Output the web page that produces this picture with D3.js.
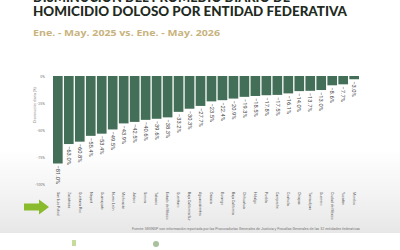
<!DOCTYPE html>
<html>
<head>
<meta charset="utf-8">
<script src="https://cdn.jsdelivr.net/npm/d3@7"></script>
<style>
  html, body { margin: 0; padding: 0; background: #fff; }
  svg { display: block; }
</style>
</head>
<body>
<svg id="chart" width="400" height="250"></svg>
<script>
const estados = [
  'San Luis Potosí', 'Zacatecas', 'Quintana Roo', 'Nayarit', 'Guanajuato',
  'Nuevo León', 'Michoacán', 'Jalisco', 'Sonora', 'Tabasco',
  'Estado de México', 'Querétaro', 'Baja California Sur', 'Aguascalientes', 'Oaxaca',
  'Durango', 'Baja California', 'Chihuahua', 'Hidalgo', 'Puebla',
  'Campeche', 'Coahuila', 'Chiapas', 'Tamaulipas', 'Guerrero',
  'Ciudad de México', 'Yucatán', 'Morelos'
]

const variacion = [
  -81.0, -63.0, -60.8, -55.4, -53.4,
  -49.5, -43.9, -42.5, -40.6, -39.6,
  -38.3, -33.2, -30.3, -27.7, -23.5,
  -22.4, -20.9, -19.3, -18.5, -17.8,
  -17.5, -16.1, -14.0, -13.7, -13.0,
  -8.6, -7.7, -3.0
]

const yTicks = [0, -25, -50, -75, -100]

const titulo = ['DISMINUCIÓN DEL PROMEDIO DIARIO DE', 'HOMICIDIO DOLOSO POR ENTIDAD FEDERATIVA']
const subtitulo = 'Ene. - May. 2025 vs. Ene. - May. 2026'
const fuente = 'Fuente: SESNSP con información reportada por las Procuradurías Generales de Justicia y Fiscalías Generales de las 32 entidades federativas'

const svg = d3.select('#chart')

// background band
const defs = svg.append('defs')
const grad = defs.append('linearGradient')
    .attr('id', 'band')
    .attr('x1', 0).attr('x2', 0).attr('y1', 0).attr('y2', 1)
grad.append('stop').attr('offset', '0%').attr('stop-color', '#ffffff')
grad.append('stop').attr('offset', '55%').attr('stop-color', '#f3f3f3')
grad.append('stop').attr('offset', '100%').attr('stop-color', '#e7e7e7')

svg.append('rect')
    .attr('x', 0).attr('y', 150)
    .attr('width', 400).attr('height', 83)
    .attr('fill', 'url(#band)')

// title
svg.append('text')
    .attr('x', 33).attr('y', 2)
    .attr('font-family', 'Lato, "DejaVu Sans", sans-serif')
    .attr('font-weight', 900)
    .attr('font-size', 12.5)
    .attr('fill', '#1e2a22')
    .attr('textLength', 257)
    .attr('lengthAdjust', 'spacingAndGlyphs')
    .text(titulo[0])

svg.append('text')
    .attr('x', 33).attr('y', 16)
    .attr('font-family', 'Lato, "DejaVu Sans", sans-serif')
    .attr('font-weight', 900)
    .attr('font-size', 12.5)
    .attr('fill', '#1e2a22')
    .attr('textLength', 314)
    .attr('lengthAdjust', 'spacingAndGlyphs')
    .text(titulo[1])

svg.append('text')
    .attr('x', 33).attr('y', 36)
    .attr('font-family', '"Open Sans", "DejaVu Sans", sans-serif')
    .attr('font-weight', 700)
    .attr('font-size', 9)
    .attr('fill', '#c8b37e')
    .attr('textLength', 187)
    .attr('lengthAdjust', 'spacingAndGlyphs')
    .text(subtitulo)

// scales
const x = d3.scaleBand()
    .domain(estados)
    .range([53, 359])
    .paddingInner(0.12)
    .paddingOuter(0)

const y = d3.scaleLinear()
    .domain([-100, 0])
    .range([184, 76])

// y axis
const yAxis = svg.append('g')
    .attr('transform', 'translate(48,0)')
    .call(d3.axisLeft(y).tickValues(yTicks).tickSize(0).tickFormat(d => d + '%'))

yAxis.select('.domain').remove()
yAxis.selectAll('text')
    .attr('font-family', 'Roboto, sans-serif')
    .attr('font-size', 3.6)
    .attr('fill', '#777')

svg.append('text')
    .attr('transform', 'translate(36,105) rotate(-90)')
    .attr('text-anchor', 'middle')
    .attr('font-family', 'Roboto, sans-serif')
    .attr('font-size', 3.6)
    .attr('fill', '#888')
    .text('Disminución diaria (%)')

// bars
svg.append('g')
  .selectAll('rect')
  .data(estados)
  .join('rect')
    .attr('x', d => x(d))
    .attr('y', y(0))
    .attr('width', x.bandwidth())
    .attr('height', (d, i) => y(variacion[i]) - y(0))
    .attr('fill', '#436e57')

// value labels
svg.append('g')
  .selectAll('text')
  .data(estados)
  .join('text')
    .attr('transform', (d, i) =>
      `translate(${x(d) + x.bandwidth() / 2 - 1.8},${y(variacion[i]) + 2}) rotate(90)`)
    .attr('font-family', 'Roboto, "DejaVu Sans", sans-serif')
    .attr('font-size', 5.8)
    .attr('fill', '#444')
    .text((d, i) => d3.format('.1f')(variacion[i]) + '%')

// category labels
svg.append('g')
  .selectAll('text')
  .data(estados)
  .join('text')
    .attr('transform', d =>
      `translate(${x(d) + x.bandwidth() / 2 - 1.2},192) rotate(90)`)
    .attr('font-family', 'Roboto, sans-serif')
    .attr('font-size', 3.5)
    .attr('fill', '#555')
    .text(d => d)

// arrow
svg.append('path')
    .attr('d', 'M24,203.5 L39,203.5 L39,199.5 L49,207 L39,214.5 L39,210.5 L24,210.5 Z')
    .attr('fill', '#8abb2c')

// source
svg.append('text')
    .attr('x', 132).attr('y', 229.5)
    .attr('font-family', 'Roboto, sans-serif')
    .attr('font-size', 3.1)
    .attr('fill', '#777')
    .attr('textLength', 228)
    .attr('lengthAdjust', 'spacingAndGlyphs')
    .text(fuente)

// small footer marks
svg.append('rect')
    .attr('x', 72).attr('y', 240)
    .attr('width', 4).attr('height', 6)
    .attr('fill', '#9cc45a')
    .attr('opacity', 0.6)
svg.append('circle')
    .attr('cx', 156).attr('cy', 244)
    .attr('r', 3)
    .attr('fill', '#6f9a5a')
    .attr('opacity', 0.6)
</script>
</body>
</html>
